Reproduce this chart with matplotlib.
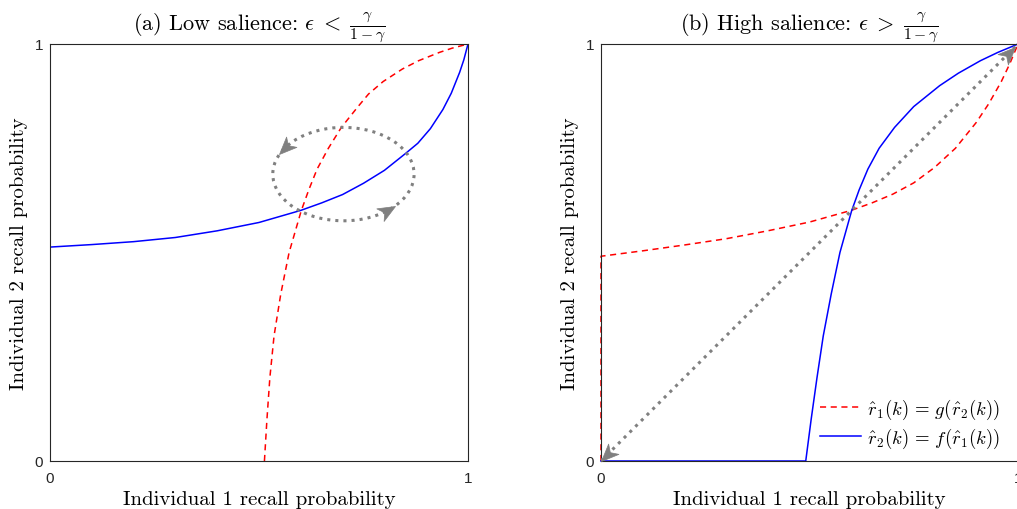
import numpy as np
import matplotlib
matplotlib.use("Agg")
import matplotlib.pyplot as plt
from matplotlib.patches import Ellipse
from matplotlib.markers import MarkerStyle
from matplotlib.path import Path
from matplotlib.transforms import Affine2D

plt.rcParams["mathtext.fontset"] = "cm"
plt.rcParams["font.family"] = "cmr10"
plt.rcParams["axes.unicode_minus"] = False

RED = "#ff0000"
BLUE = "#0000ff"
GRAY = "#808080"
DARK = "#262626"

# (a) low salience: best responses
f_low_x = [0.0, 0.10, 0.20, 0.30, 0.40, 0.50, 0.60, 0.65, 0.70, 0.75, 0.80, 0.85, 0.88, 0.91, 0.94, 0.96, 0.98, 0.99, 1.0]
f_low_y = [0.513, 0.519, 0.526, 0.536, 0.552, 0.572, 0.601, 0.619, 0.639, 0.666, 0.697, 0.737, 0.762, 0.797, 0.843, 0.882, 0.932, 0.962, 1.0]
g_low_x = [0.513, 0.519, 0.526, 0.536, 0.552, 0.572, 0.601, 0.619, 0.639, 0.666, 0.697, 0.737, 0.762, 0.797, 0.843, 0.882, 0.932, 0.962, 1.0]
g_low_y = [0.0, 0.10, 0.20, 0.30, 0.40, 0.50, 0.60, 0.65, 0.70, 0.75, 0.80, 0.85, 0.88, 0.91, 0.94, 0.96, 0.98, 0.99, 1.0]

# (b) high salience: best responses
g_high_x = [0.0, 0.0, 0.10, 0.20, 0.30, 0.40, 0.50, 0.60, 0.65, 0.70, 0.75, 0.80, 0.85, 0.90, 0.93, 0.96, 0.98, 1.0]
g_high_y = [0.0, 0.491, 0.504, 0.518, 0.533, 0.552, 0.573, 0.601, 0.619, 0.640, 0.667, 0.704, 0.750, 0.812, 0.857, 0.910, 0.952, 1.0]
f_high_x = [0.0, 0.491, 0.504, 0.518, 0.533, 0.552, 0.573, 0.601, 0.619, 0.640, 0.667, 0.704, 0.750, 0.812, 0.857, 0.910, 0.952, 1.0]
f_high_y = [0.0, 0.0, 0.10, 0.20, 0.30, 0.40, 0.50, 0.60, 0.65, 0.70, 0.75, 0.80, 0.85, 0.90, 0.93, 0.96, 0.98, 1.0]

# cycling around the interior fixed point in (a)
cycle_center = (0.702, 0.688)
cycle_rx, cycle_ry = 0.169, 0.112


def arrow_head(ax, x, y, angle, size=25):
    verts = [(0, 0), (-1, 0.42), (-0.72, 0), (-1, -0.42), (0, 0)]
    codes = [Path.MOVETO, Path.LINETO, Path.LINETO, Path.LINETO, Path.CLOSEPOLY]
    m = MarkerStyle(Path(verts, codes), transform=Affine2D().rotate_deg(angle))
    ax.plot([x], [y], marker=m, ms=size, color=GRAY, mec=GRAY, mew=0.5,
            ls="none", clip_on=False, zorder=5)


def style_axes(ax, title):
    ax.set_xlim(0, 1)
    ax.set_ylim(0, 1)
    ax.set_xticks([0, 1])
    ax.set_yticks([0, 1])
    ax.set_xticklabels(["0", "1"], family="Liberation Sans", fontsize=11, color=DARK)
    ax.set_yticklabels(["0", "1"], family="Liberation Sans", fontsize=11, color=DARK)
    ax.tick_params(direction="in", length=3, width=0.6, color=DARK)
    ax.tick_params(axis="x", pad=7)
    ax.tick_params(axis="y", pad=5)
    for s in ax.spines.values():
        s.set_color(DARK)
        s.set_linewidth(0.8)
    ax.set_xlabel("Individual 1 recall probability", fontsize=15, labelpad=4)
    ax.set_ylabel("Individual 2 recall probability", fontsize=15, labelpad=5)
    ax.set_title(title, fontsize=16, pad=8)


fig = plt.figure(figsize=(10.17, 5.10), dpi=100)
ax1 = fig.add_axes([50 / 1017, 48 / 510, 418 / 1017, 417 / 510])
ax2 = fig.add_axes([601 / 1017, 48 / 510, 417 / 1017, 417 / 510])

# panel (a)
ax1.plot(g_low_x, g_low_y, color=RED, lw=1.1, ls=(0, (4, 3)))
ax1.plot(f_low_x, f_low_y, color=BLUE, lw=1.1)
ax1.add_patch(Ellipse(cycle_center, 2 * cycle_rx, 2 * cycle_ry, fill=False,
                      ls=":", lw=2.2, color=GRAY, zorder=4))
arrow_head(ax1, 0.548, 0.736, 225)
arrow_head(ax1, 0.825, 0.611, 30)
style_axes(ax1, r"(a) Low salience: $\epsilon\;<\;\frac{\gamma}{1-\gamma}$")

# panel (b)
ax2.plot(g_high_x, g_high_y, color=RED, lw=1.1, ls=(0, (4, 3)),
         label=r"$\hat{r}_1(k)\,=\,g(\hat{r}_2(k))$", clip_on=False)
ax2.plot(f_high_x, f_high_y, color=BLUE, lw=1.1,
         label=r"$\hat{r}_2(k)\,=\,f(\hat{r}_1(k))$", clip_on=False)
ax2.plot([0, 1], [0, 1], color=GRAY, ls=":", lw=2.2, zorder=4)
arrow_head(ax2, 0.0, 0.0, 225)
arrow_head(ax2, 0.994, 0.994, 45)
style_axes(ax2, r"(b) High salience: $\epsilon\;>\;\frac{\gamma}{1-\gamma}$")
ax2.legend(loc="lower right", frameon=False, fontsize=13.5, handlelength=2.2,
           handletextpad=0.35, labelspacing=0.25, borderaxespad=0.2,
           bbox_to_anchor=(0.985, 0.0))

fig.savefig("out.png", dpi=100)
